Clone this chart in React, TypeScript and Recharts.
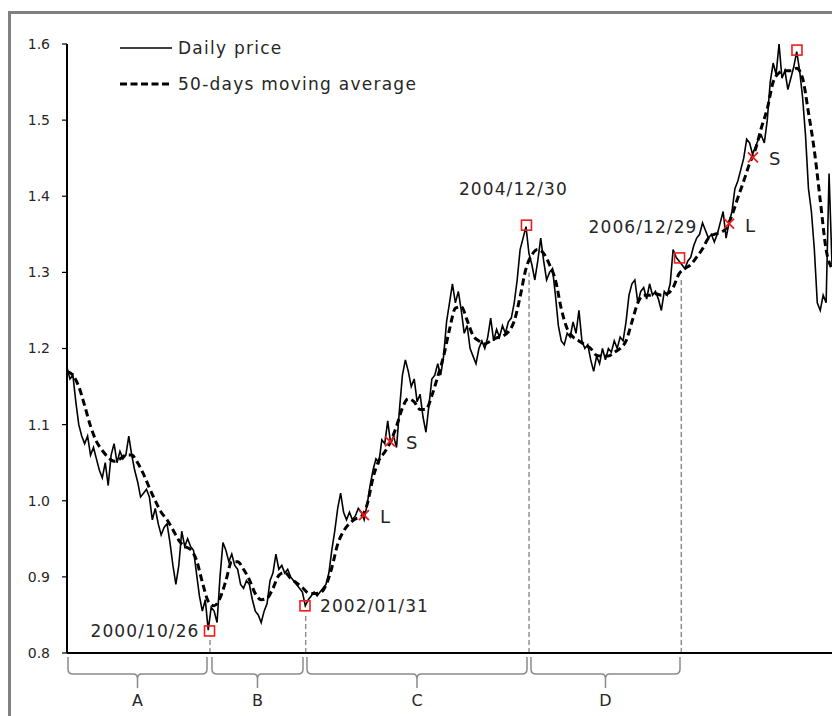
import React from 'react';
import { ComposedChart, Line, XAxis, YAxis, ReferenceLine, ReferenceDot } from 'recharts';

// ---------- data ----------
const START_YEAR = 1999;
const END_YEAR = 2009;
const PRICE_PER_YEAR = 26; // one reading every two weeks
const MA_PER_YEAR = 13; // one reading every four weeks

const PRICE: number[] = [
  // 1999
  1.175, 1.16, 1.165, 1.13, 1.1, 1.085, 1.075, 1.085, 1.06, 1.07, 1.055, 1.04, 1.03, 1.05, 1.02, 1.06, 1.075, 1.05, 1.065, 1.055, 1.06, 1.085, 1.06, 1.04, 1.025, 1.005,
  // 2000
  1.01, 1.015, 1.005, 0.975, 0.99, 0.97, 0.955, 0.965, 0.97, 0.945, 0.915, 0.89, 0.915, 0.96, 0.94, 0.95, 0.94, 0.935, 0.905, 0.875, 0.855, 0.87, 0.83, 0.86, 0.855, 0.84,
  // 2001
  0.9, 0.945, 0.935, 0.92, 0.93, 0.915, 0.91, 0.89, 0.885, 0.895, 0.89, 0.87, 0.855, 0.85, 0.84, 0.855, 0.865, 0.895, 0.905, 0.93, 0.91, 0.915, 0.905, 0.91, 0.9, 0.895,
  // 2002
  0.89, 0.885, 0.88, 0.862, 0.87, 0.875, 0.88, 0.875, 0.88, 0.885, 0.89, 0.905, 0.935, 0.96, 0.99, 1.01, 0.985, 0.975, 0.985, 0.975, 0.98, 0.99, 0.985, 0.975, 0.995, 1.02,
  // 2003
  1.04, 1.055, 1.05, 1.08, 1.075, 1.105, 1.075, 1.085, 1.07, 1.12, 1.165, 1.185, 1.17, 1.15, 1.16, 1.13, 1.14, 1.11, 1.09, 1.125, 1.16, 1.165, 1.18, 1.165, 1.19, 1.235,
  // 2004
  1.26, 1.285, 1.26, 1.275, 1.25, 1.22, 1.23, 1.2, 1.19, 1.18, 1.2, 1.21, 1.2, 1.215, 1.24, 1.21, 1.225, 1.215, 1.23, 1.22, 1.235, 1.24, 1.26, 1.29, 1.33, 1.345,
  // 2005
  1.36, 1.325, 1.31, 1.29, 1.315, 1.345, 1.315, 1.29, 1.3, 1.305, 1.27, 1.23, 1.21, 1.205, 1.22, 1.215, 1.235, 1.22, 1.25, 1.21, 1.2, 1.205, 1.185, 1.17, 1.19, 1.18,
  // 2006
  1.2, 1.185, 1.2, 1.195, 1.21, 1.2, 1.215, 1.21, 1.235, 1.27, 1.285, 1.29, 1.26, 1.275, 1.28, 1.265, 1.285, 1.27, 1.275, 1.265, 1.25, 1.275, 1.27, 1.285, 1.33, 1.32,
  // 2007
  1.315, 1.31, 1.305, 1.315, 1.32, 1.335, 1.345, 1.35, 1.365, 1.355, 1.345, 1.35, 1.34, 1.35, 1.365, 1.38, 1.345, 1.365, 1.38, 1.41, 1.42, 1.435, 1.45, 1.475, 1.47, 1.455,
  // 2008
  1.465, 1.475, 1.48, 1.47, 1.5, 1.55, 1.575, 1.56, 1.6, 1.555, 1.565, 1.54, 1.555, 1.57, 1.59, 1.565, 1.53, 1.48, 1.41, 1.38, 1.33, 1.26, 1.25, 1.27, 1.26, 1.43,
  1.31,
];

const MA: number[] = [
  // 1999
  1.17, 1.165, 1.15, 1.125, 1.098, 1.078, 1.066, 1.057, 1.052, 1.055, 1.06, 1.06, 1.05,
  // 2000
  1.035, 1.017, 1.0, 0.985, 0.975, 0.962, 0.948, 0.94, 0.936, 0.922, 0.893, 0.868, 0.862,
  // 2001
  0.872, 0.895, 0.92, 0.92, 0.91, 0.896, 0.878, 0.87, 0.872, 0.885, 0.902, 0.906, 0.898,
  // 2002
  0.892, 0.886, 0.879, 0.878, 0.879, 0.889, 0.912, 0.943, 0.96, 0.97, 0.976, 0.979, 0.995,
  // 2003
  1.03, 1.053, 1.064, 1.078, 1.098, 1.122, 1.134, 1.13, 1.12, 1.12, 1.138, 1.163, 1.19,
  // 2004
  1.225, 1.253, 1.255, 1.237, 1.217, 1.21, 1.206, 1.21, 1.214, 1.216, 1.222, 1.236, 1.268,
  // 2005
  1.305, 1.323, 1.33, 1.325, 1.31, 1.29, 1.252, 1.226, 1.215, 1.21, 1.205, 1.2, 1.191,
  // 2006
  1.19, 1.19, 1.195, 1.2, 1.21, 1.235, 1.26, 1.27, 1.27, 1.272, 1.27, 1.272, 1.28,
  // 2007
  1.298, 1.305, 1.31, 1.32, 1.331, 1.345, 1.35, 1.352, 1.358, 1.375, 1.398, 1.42, 1.443,
  // 2008
  1.462, 1.49, 1.515, 1.55, 1.562, 1.565, 1.565, 1.568, 1.555, 1.51, 1.46, 1.395, 1.33,
  1.305,
];

const Y_TICKS = [0.8, 0.9, 1.0, 1.1, 1.2, 1.3, 1.4, 1.5, 1.6];

// turning points marked with red squares (year position, price)
const TURN_T = [2000.863, 2002.111, 2005.006, 2007.007, 2008.542];
const TURN_V = [0.829, 0.862, 1.362, 1.319, 1.592];
const TURN_LABELS = ['2000/10/26', '2002/01/31', '2004/12/30', '2006/12/29', ''];

// long / short signals marked with red crosses
const SIGNAL_T = [2002.882, 2003.222, 2007.654, 2007.967];
const SIGNAL_V = [0.981, 1.078, 1.364, 1.451];
const SIGNAL_LABELS = ['L', 'S', 'L', 'S'];

// grey dashed drop lines (year, upper price)
const DROP_T = [2000.869, 2002.12, 2005.04, 2007.03];
const DROP_TOP = [0.822, 0.853, 1.3, 1.29];

// phases under the axis
const PHASE_LABELS = ['A', 'B', 'C', 'D'];
const PHASE_FROM = [1999.013, 2000.895, 2002.137, 2005.065];
const PHASE_TO = [2000.83, 2002.085, 2005.013, 2007.013];

const LEGEND_LABELS = ['Daily price', '50-days moving average'];

// ---------- tables for the library ----------
const priceData = PRICE.map((v, i) => ({ t: START_YEAR + i / PRICE_PER_YEAR, price: v }));
const maData = MA.map((v, i) => ({ t: START_YEAR + i / MA_PER_YEAR, ma: v }));

// ---------- styles ----------
const FONT = '"DejaVu Sans", "Noto Sans", sans-serif';
const TEXT = '#262626';
const RED = '#ee1c1c';
const GREY = '#8a8a8a';

// label offsets (pixels) for the turning-point captions, same order as TURN_LABELS
const TURN_LABEL_STYLE: { dx: number; dy: number; anchor: 'start' | 'middle' | 'end' }[] = [
  { dx: -10, dy: 6, anchor: 'end' },
  { dx: 15, dy: 6, anchor: 'start' },
  { dx: -13, dy: -30, anchor: 'middle' },
  { dx: 18, dy: -25, anchor: 'end' },
  { dx: 0, dy: 0, anchor: 'start' },
];

const SquareShape = (idx: number) => (p: any) => {
  const { cx, cy } = p;
  if (cx == null || cy == null) return <g />;
  const st = TURN_LABEL_STYLE[idx];
  return (
    <g>
      <rect x={cx - 5} y={cy - 5} width={10} height={10} fill="none" stroke={RED} strokeWidth={1.6} />
      {TURN_LABELS[idx] ? (
        <text
          x={cx + st.dx}
          y={cy + st.dy}
          textAnchor={st.anchor}
          fontFamily={FONT}
          fontSize={17}
          letterSpacing={1.1}
          fill={TEXT}
        >
          {TURN_LABELS[idx]}
        </text>
      ) : null}
    </g>
  );
};

const CrossShape = (idx: number) => (p: any) => {
  const { cx, cy } = p;
  if (cx == null || cy == null) return <g />;
  return (
    <g>
      <line x1={cx - 5} y1={cy - 5} x2={cx + 5} y2={cy + 5} stroke={RED} strokeWidth={1.8} />
      <line x1={cx - 5} y1={cy + 5} x2={cx + 5} y2={cy - 5} stroke={RED} strokeWidth={1.8} />
      <text x={cx + 16} y={cy + 8} fontFamily={FONT} fontSize={18} fill={TEXT}>
        {SIGNAL_LABELS[idx]}
      </text>
    </g>
  );
};

const BraceShape = (idx: number) => (p: any) => {
  const { x1, x2, y1 } = p;
  if (x1 == null || x2 == null || y1 == null) return <g />;
  const y = y1;
  const xc = (x1 + x2) / 2;
  const d =
    `M ${x1} ${y + 4} L ${x1} ${y + 16} Q ${x1} ${y + 21} ${x1 + 5} ${y + 21} L ${xc - 4} ${y + 21} Q ${xc} ${y + 21} ${xc} ${y + 26} L ${xc} ${y + 35} ` +
    `M ${x2} ${y + 4} L ${x2} ${y + 16} Q ${x2} ${y + 21} ${x2 - 5} ${y + 21} L ${xc + 4} ${y + 21} Q ${xc} ${y + 21} ${xc} ${y + 26}`;
  return (
    <g>
      <path d={d} fill="none" stroke={GREY} strokeWidth={1.5} />
      <text x={xc} y={y + 53} textAnchor="middle" fontFamily={FONT} fontSize={16} fill={TEXT}>
        {PHASE_LABELS[idx]}
      </text>
    </g>
  );
};

const LegendBox = () => (
  <svg width={400} height={70} style={{ position: 'absolute', left: 112, top: 30, display: 'block' }}>
    <line x1={0} y1={10} x2={52} y2={10} stroke="#000" strokeWidth={1.5} />
    <text x={58} y={16} fontFamily={FONT} fontSize={17} letterSpacing={1.25} fill={TEXT}>
      {LEGEND_LABELS[0]}
    </text>
    <line x1={0} y1={46} x2={52} y2={46} stroke="#000" strokeWidth={3} strokeDasharray="7 3.5" />
    <text x={58} y={52} fontFamily={FONT} fontSize={17} letterSpacing={1.25} fill={TEXT}>
      {LEGEND_LABELS[1]}
    </text>
  </svg>
);

export default function App() {
  return (
    <div style={{ position: 'relative', width: 832, height: 708 }}>
      <style>{'html,body{overflow:hidden}'}</style>
      <div
        style={{
          position: 'absolute',
          left: 0,
          top: 3,
          width: 840,
          height: 720,
          borderLeft: '3px solid #808080',
          borderTop: '3px solid #808080',
          boxSizing: 'border-box',
        }}
      />
      <div style={{ position: 'absolute', left: 0, top: 0 }}>
        <ComposedChart width={832} height={708} margin={{ top: 36, right: 8, bottom: 62, left: 10 }}>
          <XAxis
            type="number"
            dataKey="t"
            domain={[START_YEAR, END_YEAR]}
            allowDataOverflow
            tick={false}
            tickLine={false}
            axisLine={{ stroke: '#000', strokeWidth: 2 }}
            height={1}
          />
          <YAxis
            type="number"
            domain={[0.8, 1.6]}
            ticks={Y_TICKS}
            tickFormatter={(v: number) => v.toFixed(1)}
            axisLine={{ stroke: '#000', strokeWidth: 2 }}
            tickLine={{ stroke: '#000', strokeWidth: 1.2 }}
            tickSize={5}
            tickMargin={12}
            width={49}
            tick={{ fontFamily: FONT, fontSize: 14, fill: TEXT }}
          />
          {DROP_T.map((t, i) => (
            <ReferenceLine
              key={'drop' + i}
              segment={[
                { x: t, y: 0.8 },
                { x: t, y: DROP_TOP[i] },
              ]}
              stroke={GREY}
              strokeWidth={1.4}
              strokeDasharray="5 3"
            />
          ))}
          <Line
            data={priceData}
            dataKey="price"
            type="linear"
            stroke="#000"
            strokeWidth={1.6}
            dot={false}
            isAnimationActive={false}
            name="Daily price"
          />
          <Line
            data={maData}
            dataKey="ma"
            type="monotone"
            stroke="#000"
            strokeWidth={3}
            strokeDasharray="7 4"
            dot={false}
            isAnimationActive={false}
            name="50-days moving average"
          />
          {PHASE_LABELS.map((l, i) => (
            <ReferenceLine
              key={'phase' + l}
              segment={[
                { x: PHASE_FROM[i], y: 0.8 },
                { x: PHASE_TO[i], y: 0.8 },
              ]}
              ifOverflow="visible"
              shape={BraceShape(i)}
            />
          ))}
          {TURN_T.map((t, i) => (
            <ReferenceDot key={'turn' + i} x={t} y={TURN_V[i]} r={5} ifOverflow="visible" shape={SquareShape(i)} />
          ))}
          {SIGNAL_T.map((t, i) => (
            <ReferenceDot key={'sig' + i} x={t} y={SIGNAL_V[i]} r={5} ifOverflow="visible" shape={CrossShape(i)} />
          ))}
        </ComposedChart>
      </div>
      <LegendBox />
    </div>
  );
}
